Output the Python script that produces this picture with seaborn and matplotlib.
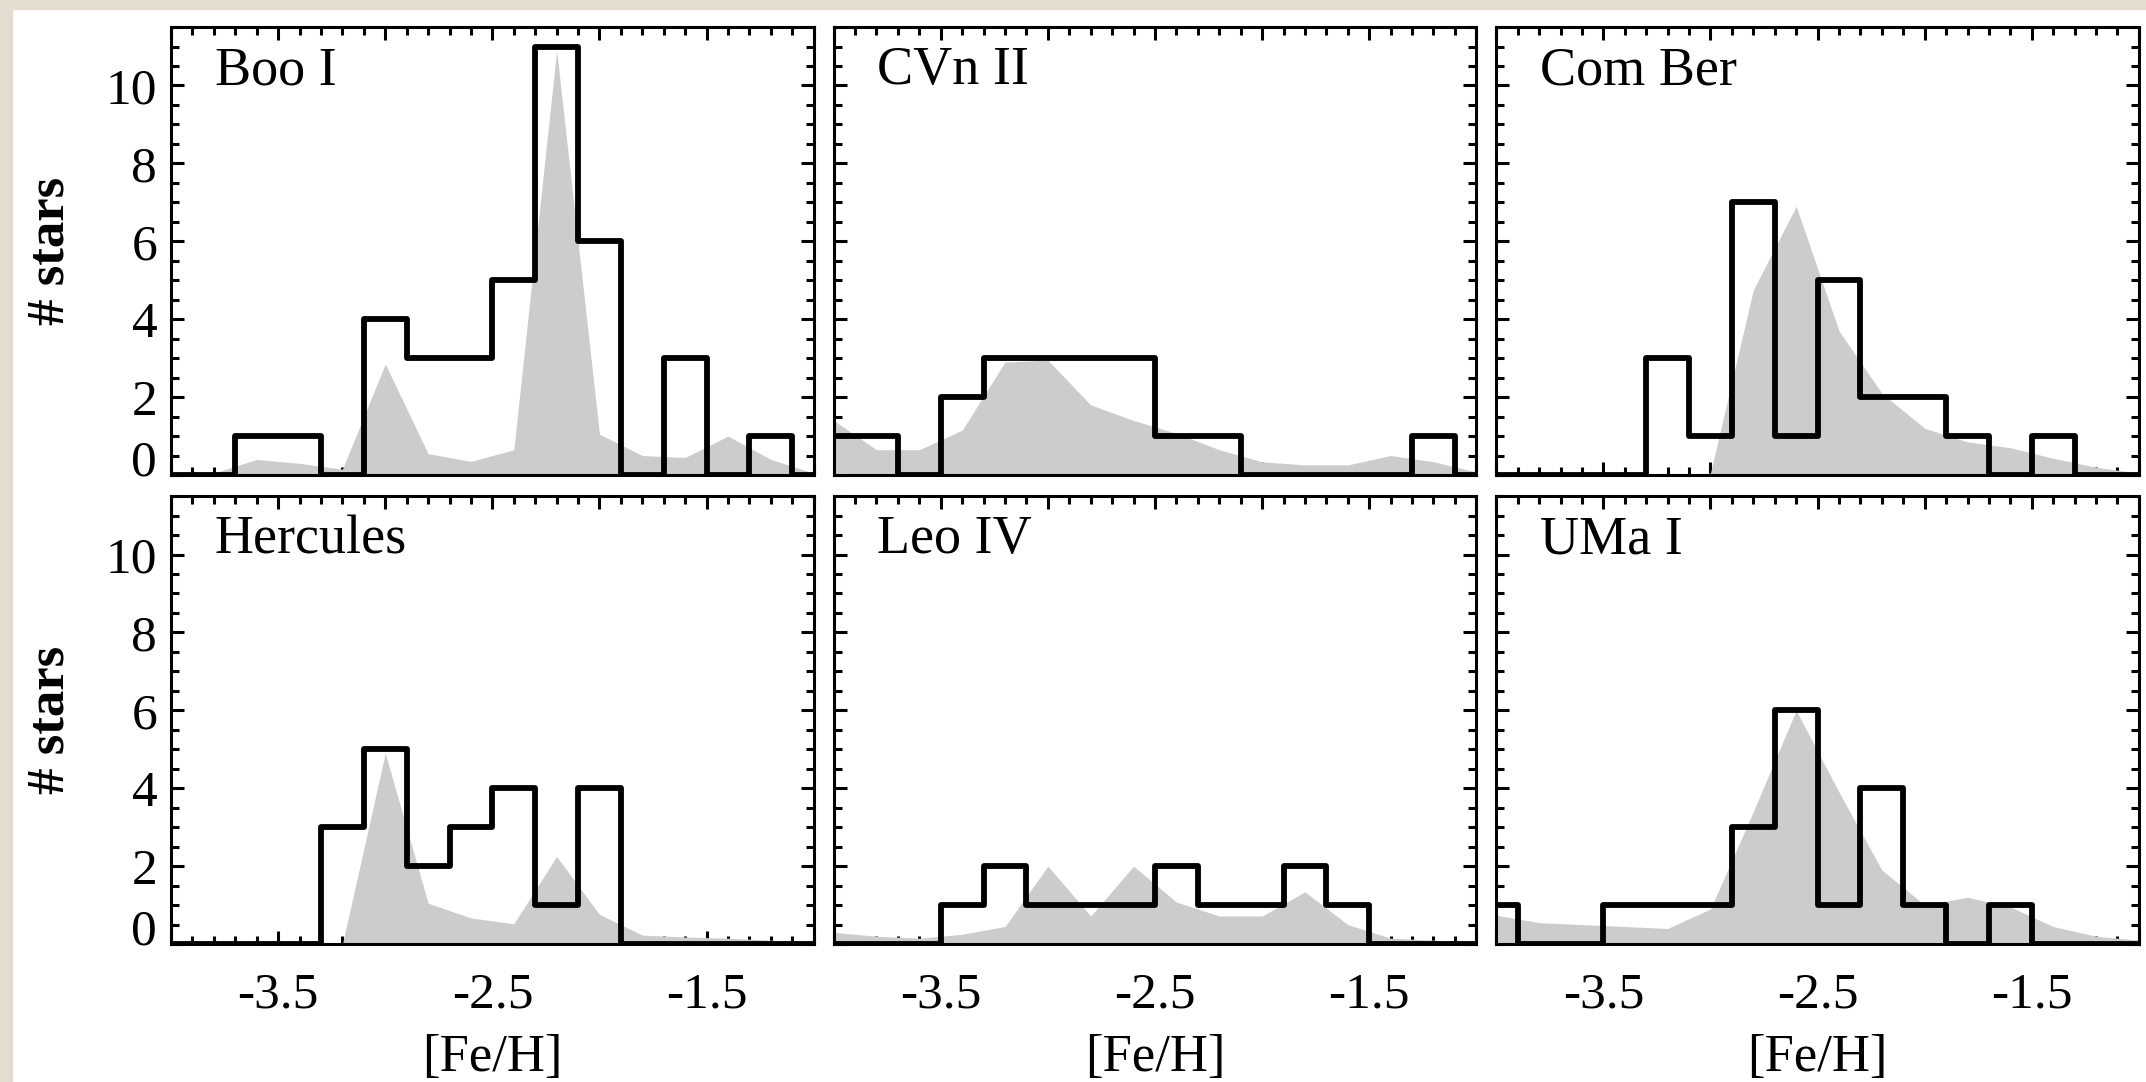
import numpy as np
import pandas as pd
import seaborn as sns
import matplotlib.pyplot as plt
from matplotlib.ticker import MultipleLocator, FixedLocator, FuncFormatter
from matplotlib.patches import Rectangle


# [Fe/H] histogram bins, 0.2 dex wide
bin_edges = [-4.1, -3.9, -3.7, -3.5, -3.3, -3.1, -2.9, -2.7, -2.5,
             -2.3, -2.1, -1.9, -1.7, -1.5, -1.3, -1.1, -0.9]

# number of stars per bin
boo_counts = [0, 0, 1, 1, 0, 4, 3, 3, 5, 11, 6, 0, 3, 0, 1, 0]
cvn_counts = [1, 1, 0, 2, 3, 3, 3, 3, 1, 1, 0, 0, 0, 0, 1, 0]
com_counts = [0, 0, 0, 0, 3, 1, 7, 1, 5, 2, 2, 1, 0, 1, 0, 0]
her_counts = [0, 0, 0, 0, 3, 5, 2, 3, 4, 1, 4, 0, 0, 0, 0, 0]
leo_counts = [0, 0, 0, 1, 2, 1, 1, 1, 2, 1, 1, 2, 1, 0, 0, 0]
uma_counts = [1, 0, 0, 1, 1, 1, 3, 6, 1, 4, 1, 0, 1, 0, 0, 0]

# grey summed-probability curves
model_feh = [-4.0, -3.8, -3.6, -3.4, -3.2, -3.0, -2.8, -2.6,
             -2.4, -2.2, -2.0, -1.8, -1.6, -1.4, -1.2, -1.0]
boo_model = [0.0, 0.05, 0.4, 0.3, 0.15, 2.85, 0.55, 0.35, 0.65, 10.9, 1.05, 0.5, 0.45, 1.0, 0.4, 0.05]
cvn_model = [1.4, 0.65, 0.65, 1.15, 2.9, 2.95, 1.8, 1.4, 1.07, 0.65, 0.34, 0.26, 0.26, 0.5, 0.34, 0.08]
com_model = [0.0, 0.0, 0.0, 0.0, 0.0, 0.05, 4.75, 6.9, 3.7, 2.1, 1.2, 0.85, 0.7, 0.43, 0.2, 0.05]
her_model = [0.0, 0.0, 0.0, 0.0, 0.0, 4.9, 1.05, 0.67, 0.52, 2.25, 0.76, 0.23, 0.18, 0.15, 0.1, 0.05]
leo_model = [0.3, 0.2, 0.15, 0.25, 0.45, 2.0, 0.72, 2.0, 1.08, 0.72, 0.72, 1.34, 0.5, 0.15, 0.1, 0.05]
uma_model = [0.74, 0.55, 0.5, 0.45, 0.4, 0.9, 3.4, 6.0, 3.9, 1.9, 1.0, 1.2, 0.95, 0.45, 0.2, 0.1]

galaxies = ['Boo I', 'CVn II', 'Com Ber', 'Hercules', 'Leo IV', 'UMa I']
all_counts = [boo_counts, cvn_counts, com_counts, her_counts, leo_counts, uma_counts]
all_models = [boo_model, cvn_model, com_model, her_model, leo_model, uma_model]

bin_mid = [(a + b) / 2 for a, b in zip(bin_edges[:-1], bin_edges[1:])]

sns.set_theme(style='ticks')
plt.rcParams['font.family'] = ['Liberation Serif', 'DejaVu Serif']
plt.rcParams['axes.unicode_minus'] = False
plt.rcParams['text.color'] = 'black'
plt.rcParams['axes.labelcolor'] = 'black'
plt.rcParams['xtick.color'] = 'black'
plt.rcParams['ytick.color'] = 'black'

fig, axes = plt.subplots(2, 3, figsize=(21.46, 10.82), dpi=100, sharex=True, sharey=True)
fig.patch.set_facecolor('white')
fig.subplots_adjust(left=0.0797, right=0.9967, top=0.975, bottom=0.1275,
                    wspace=0.031, hspace=0.047)

# beige slide edge on the left and top
beige = '#e3ddd0'
fig.add_artist(Rectangle((0, 0), 12 / 2146, 1, transform=fig.transFigure,
                         color=beige, zorder=-5))
fig.add_artist(Rectangle((0, 1 - 9 / 1082), 1, 9 / 1082, transform=fig.transFigure,
                         color=beige, zorder=-5))

xlabels = {-3.5: '-3.5', -2.5: '-2.5', -1.5: '-1.5'}

for i, ax in enumerate(axes.flat):
    df = pd.DataFrame({'feh': bin_mid, 'n': all_counts[i]})
    ax.fill_between(model_feh, 0, all_models[i], color='#cccccc', lw=0, zorder=1)
    sns.histplot(data=df, x='feh', weights='n', bins=bin_edges, element='step',
                 fill=False, color='black', linewidth=4.2, ax=ax, zorder=3)

    ax.set_xlim(-4.0, -1.0)
    ax.set_ylim(0, 11.5)
    ax.xaxis.set_major_locator(FixedLocator([-4.0, -3.5, -3.0, -2.5, -2.0, -1.5, -1.0]))
    ax.xaxis.set_major_formatter(FuncFormatter(lambda v, p: xlabels.get(round(v, 1), '')))
    ax.xaxis.set_minor_locator(MultipleLocator(0.1))
    ax.yaxis.set_major_locator(FixedLocator([0, 2, 4, 6, 8, 10]))
    ax.yaxis.set_minor_locator(MultipleLocator(0.5))
    ax.tick_params(which='both', direction='in', top=True, right=True,
                   width=2.2, color='black', labelcolor='black', labelsize=37)
    ax.tick_params(which='major', length=9.5)
    ax.tick_params(which='minor', length=5.8)
    ax.tick_params(axis='x', pad=20)
    ax.tick_params(axis='y', pad=10)
    for s in ax.spines.values():
        s.set_linewidth(2.2)
        s.set_color('black')
        s.set_zorder(4)

    ax.text(0.068, 0.872, galaxies[i], transform=ax.transAxes, fontsize=39,
            ha='left', va='baseline', color='black')

    ax.set_xlabel('')
    ax.set_ylabel('')
    if i % 3 == 0:
        ax.set_ylabel('# stars', fontsize=38, fontweight='bold')
        ax.yaxis.set_label_coords(-0.15, 0.5)
        ax.yaxis.get_major_ticks()[0].label1.set_verticalalignment('baseline')
    if i >= 3:
        ax.set_xlabel('[Fe/H]', fontsize=38)
        ax.xaxis.set_label_coords(0.5, -0.20)

fig.savefig('out.png', dpi=100, facecolor=fig.get_facecolor())
